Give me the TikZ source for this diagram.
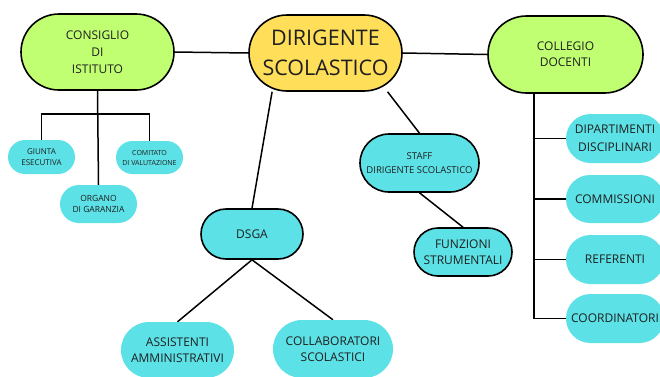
\documentclass[tikz,border=0pt]{standalone}
\usepackage{fontspec}
\setmainfont{Open Sans}
\usetikzlibrary{backgrounds,calc}
\definecolor{limeG}{HTML}{C1FF72}
\definecolor{yelG}{HTML}{FFDE59}
\definecolor{cyanG}{HTML}{5CE1E6}
\definecolor{txtG}{HTML}{1F1F1F}
\tikzset{
  pill/.style={rectangle, inner sep=0pt, align=center, text=txtG},
  bord/.style={draw=black, line width=1.6pt},
  conn/.style={draw=black, line width=1.5pt},
}
\begin{document}
\begin{tikzpicture}[x=1pt,y=-1pt]
\useasboundingbox (0,0) rectangle (660,376);
\clip (0,0) rectangle (660,376);
% main nodes
\node[pill, bord, fill=limeG, minimum width=153pt, minimum height=76pt, rounded corners=38pt,
  font=\fontsize{12}{17}\selectfont] (consiglio) at (97.5,52) {CONSIGLIO\\DI\\ISTITUTO};
\node[pill, bord, fill=yelG, minimum width=153pt, minimum height=76pt, rounded corners=38pt,
  font=\fontsize{21.5}{30}\selectfont] (dirigente) at (325.5,53) {DIRIGENTE\\SCOLASTICO};
\node[pill, bord, fill=limeG, minimum width=155pt, minimum height=77pt, rounded corners=38.5pt,
  font=\fontsize{12}{16}\selectfont] (collegio) at (565.5,54.5) {COLLEGIO\\DOCENTI};
% consiglio children
\node[pill, fill=cyanG, minimum width=67pt, minimum height=34pt, rounded corners=17pt,
  font=\fontsize{8}{11.5}\selectfont] (giunta) at (41.5,157) {GIUNTA\\ESECUTIVA};
\node[pill, fill=cyanG, minimum width=67pt, minimum height=33pt, rounded corners=16.5pt,
  font=\fontsize{7}{10}\selectfont] (comitato) at (149.5,157.5) {COMITATO\\DI VALUTAZIONE};
\node[pill, fill=cyanG, minimum width=77pt, minimum height=38pt, rounded corners=19pt,
  font=\fontsize{8.5}{11.5}\selectfont] (organo) at (98.5,204) {ORGANO\\DI GARANZIA};
% dsga branch
\node[pill, bord, fill=cyanG, minimum width=102pt, minimum height=50pt, rounded corners=25pt,
  font=\fontsize{12}{16}\selectfont] (dsga) at (252,234) {DSGA};
\node[pill, fill=cyanG, minimum width=113pt, minimum height=56pt, rounded corners=28pt,
  font=\fontsize{12}{16.5}\selectfont] (assistenti) at (177.5,350) {ASSISTENTI\\AMMINISTRATIVI};
\node[pill, fill=cyanG, minimum width=120pt, minimum height=58pt, rounded corners=29pt,
  font=\fontsize{12}{16.5}\selectfont] (collaboratori) at (333,349) {COLLABORATORI\\SCOLASTICI};
% staff branch
\node[pill, bord, fill=cyanG, minimum width=119pt, minimum height=58pt, rounded corners=29pt,
  font=\fontsize{9.5}{14}\selectfont] (staff) at (419.5,163) {STAFF\\DIRIGENTE SCOLASTICO};
\node[pill, bord, fill=cyanG, minimum width=98pt, minimum height=48pt, rounded corners=24pt,
  font=\fontsize{12}{16.5}\selectfont] (funzioni) at (463,252) {FUNZIONI\\STRUMENTALI};
% collegio children
\node[pill, fill=cyanG, minimum width=98pt, minimum height=49pt, rounded corners=24.5pt,
  font=\fontsize{12}{17.5}\selectfont] (dipartimenti) at (615,138.5) {DIPARTIMENTI\\DISCIPLINARI};
\node[pill, fill=cyanG, minimum width=98pt, minimum height=48pt, rounded corners=24pt,
  font=\fontsize{12}{16}\selectfont] (commissioni) at (615,199) {COMMISSIONI};
\node[pill, fill=cyanG, minimum width=98pt, minimum height=49pt, rounded corners=24.5pt,
  font=\fontsize{12}{16}\selectfont] (referenti) at (615,259.5) {REFERENTI};
\node[pill, fill=cyanG, minimum width=98pt, minimum height=49pt, rounded corners=24.5pt,
  font=\fontsize{12}{16}\selectfont] (coordinatori) at (615,318.5) {COORDINATORI};
% connectors
\begin{pgfonlayer}{background}
\fill[white] (0,0) rectangle (660,376);
\draw[conn] (consiglio.east) -- (dirigente.west);
\draw[conn] (dirigente.east) -- (collegio.west);
\draw[conn] (consiglio.south) -- (organo.north);
\coordinate (cbar) at ($(consiglio.south)+(0,23)$);
\draw[conn] (giunta.north) |- (cbar) -| (comitato.north);
\draw[conn] (dirigente.216) -- (dsga.north);
\draw[conn] (dirigente.-32) -- (staff.north);
\draw[conn] (staff.south) -- (funzioni.north);
\draw[conn] (dsga.south) -- (assistenti.north);
\draw[conn] (dsga.south) -- (collaboratori.north);
\coordinate (ctop) at ($(collegio.south)+(-31.5,0)$);
\draw[conn] (ctop) |- (coordinatori.west);
\draw[conn] (ctop) |- (dipartimenti.west);
\draw[conn] (ctop) |- (commissioni.west);
\draw[conn] (ctop) |- (referenti.west);
\end{pgfonlayer}
\end{tikzpicture}
\end{document}
